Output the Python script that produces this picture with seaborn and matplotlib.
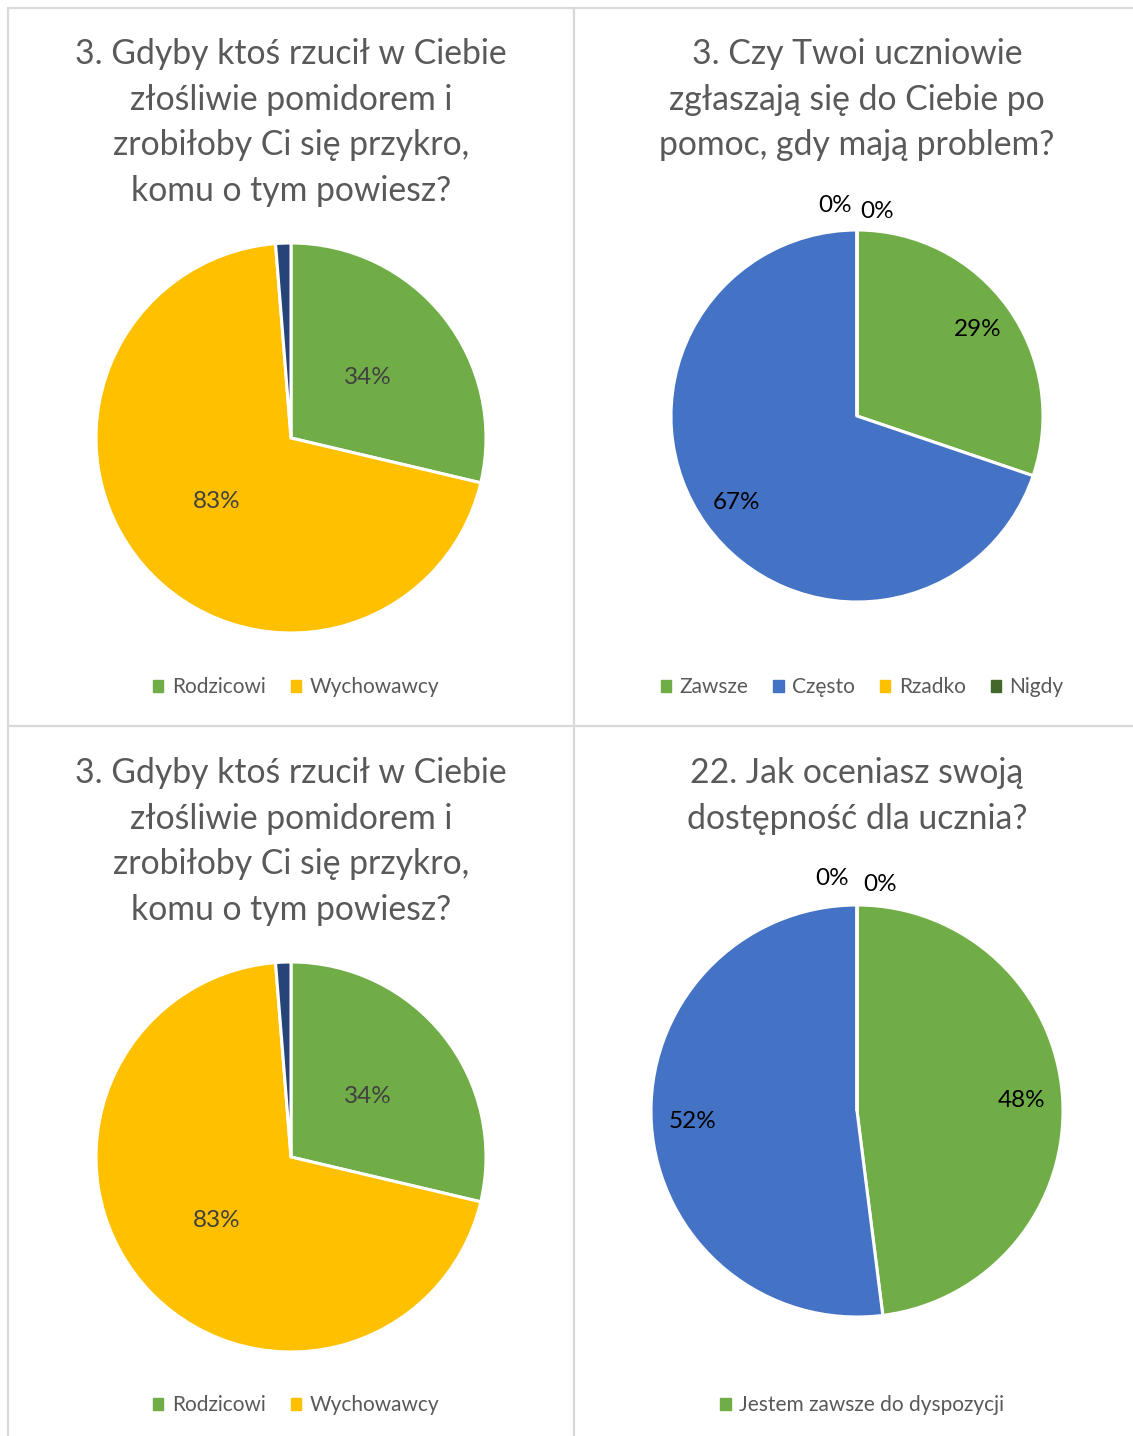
import matplotlib.pyplot as plt
import matplotlib.lines as mlines
import matplotlib.patches as mpatches
import seaborn as sns

sns.set_style("white")
plt.rcParams['font.family'] = ['Lato', 'DejaVu Sans']

# data
tomato_title = ["3. Gdyby ktoś rzucił w Ciebie", "złośliwie pomidorem i",
                "zrobiłoby Ci się przykro,", "komu o tym powiesz?"]
tomato_legend = ["Rodzicowi", "Wychowawcy"]
tomato_values = [34, 83, 1.5]
tomato_labels = ["34%", "83%", ""]

help_title = ["3. Czy Twoi uczniowie", "zgłaszają się do Ciebie po",
              "pomoc, gdy mają problem?"]
help_legend = ["Zawsze", "Często", "Rzadko", "Nigdy"]
help_values = [29, 67, 0, 0]
help_labels = ["29%", "67%", "0%", "0%"]

avail_title = ["22. Jak oceniasz swoją", "dostępność dla ucznia?"]
avail_legend = ["Jestem zawsze do dyspozycji"]
avail_values = [48, 52, 0, 0]
avail_labels = ["48%", "52%", "0%", "0%"]

GREEN, BLUE, YELLOW, NAVY, DKGREEN = "#70AD47", "#4472C4", "#FFC000", "#264478", "#43682B"
TEXT = "#595959"

W, H = 1133, 1436
fig = plt.figure(figsize=(W / 100, H / 100), dpi=100)


def fx(x):
    return x / W


def fy(y):
    return 1 - y / H


def panel(cx, cy, r, title, title_y, values, labels, colors, legend, legend_y,
          label_dist, label_color):
    # title, one line at a time
    for i, line in enumerate(title):
        fig.text(fx(cx), fy(title_y + i * 45.7), line, ha="center", va="center",
                 fontsize=24.3, color=TEXT)
    ax = fig.add_axes([fx(cx - r), fy(cy + r), 2 * r / W, 2 * r / H])
    wedges, texts = ax.pie(values, labels=labels, colors=colors, startangle=90,
                           counterclock=False, labeldistance=label_dist,
                           wedgeprops=dict(edgecolor="white", linewidth=2.2),
                           textprops=dict(fontsize=17.5, color=label_color))
    zero_nudge = [(-0.12, 1.13), (0.11, 1.10)]
    k = 0
    for v, t in zip(values, texts):
        t.set_ha("center")
        t.set_va("center")
        if v == 0:
            t.set_position(zero_nudge[k])
            k += 1
    ax.set_xlim(-1, 1)
    ax.set_ylim(-1, 1)
    handles = [mpatches.Patch(color=c) for c in colors[:len(legend)]]
    ax.legend(handles, legend, loc="center", bbox_to_anchor=(fx(cx + 5), fy(legend_y)),
              bbox_transform=fig.transFigure, ncol=len(legend), frameon=False,
              fontsize=15, labelcolor=TEXT, handlelength=0.5, handleheight=0.5,
              handletextpad=0.4, columnspacing=1.2)


panel(291, 438, 195, tomato_title, 54, tomato_values, tomato_labels,
      [GREEN, YELLOW, NAVY], tomato_legend, 687, 0.5, "#404040")
panel(857, 416, 186, help_title, 54, help_values, help_labels,
      [GREEN, BLUE, YELLOW, DKGREEN], help_legend, 687, 0.8, "black")
panel(291, 1157, 195, tomato_title, 773, tomato_values, tomato_labels,
      [GREEN, YELLOW, NAVY], tomato_legend, 1405, 0.5, "#404040")
panel(857, 1111, 206, avail_title, 773, avail_values, avail_labels,
      [GREEN, BLUE, YELLOW, DKGREEN], avail_legend, 1405, 0.8, "black")

# light grid frame between the four charts
grid = dict(color="#d9d9d9", linewidth=1.6, transform=fig.transFigure)
fig.add_artist(mlines.Line2D([fx(8), 1], [fy(8), fy(8)], **grid))
fig.add_artist(mlines.Line2D([fx(8), 1], [fy(726), fy(726)], **grid))
fig.add_artist(mlines.Line2D([fx(8), fx(8)], [fy(8), 0], **grid))
fig.add_artist(mlines.Line2D([fx(574), fx(574)], [fy(8), 0], **grid))

fig.savefig("out.png", dpi=100)
